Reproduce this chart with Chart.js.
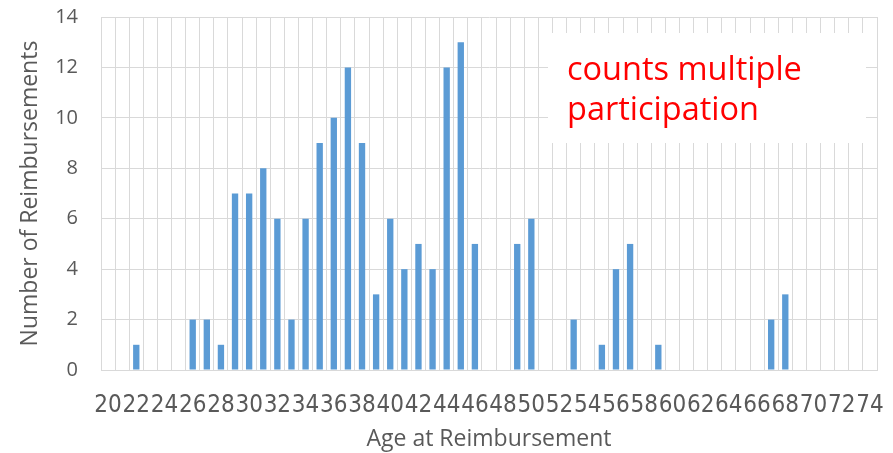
<!DOCTYPE html>
<html>
<head>
<meta charset="utf-8">
<script src="https://cdn.jsdelivr.net/npm/chart.js@4"></script>
<style>
    html, body {
        margin: 0;
        padding: 0;
        background: #ffffff;
    }
    #wrap {
        width: 893px;
        height: 453px;
    }
</style>
</head>
<body>
<div id="wrap"><canvas id="ageChart" width="893" height="453"></canvas></div>
<script>
const EDADES = [
    "20", "21", "22", "23", "24", "25", "26", "27", "28", "29",
    "30", "31", "32", "33", "34", "35", "36", "37", "38", "39",
    "40", "41", "42", "43", "44", "45", "46", "47", "48", "49",
    "50", "51", "52", "53", "54", "55", "56", "57", "58", "59",
    "60", "61", "62", "63", "64", "65", "66", "67", "68", "69",
    "70", "71", "72", "73", "74"
];

const REEMBOLSOS = [
    0, 0, 1, 0, 0, 0, 2, 2, 1, 7,
    7, 8, 6, 2, 6, 9, 10, 12, 9, 3,
    6, 4, 5, 4, 12, 13, 5, 0, 0, 5,
    6, 0, 0, 2, 0, 1, 4, 5, 0, 1,
    0, 0, 0, 0, 0, 0, 0, 2, 3, 0,
    0, 0, 0, 0, 0
];

const TICKS_Y = [0, 2, 4, 6, 8, 10, 12, 14];

const NOTA = ["counts multiple", "participation"];

const GRIS = "#595959";
const FUENTE = "'Open Sans', sans-serif";
const FUENTE_X = "'Liberation Sans Narrow', 'DejaVu Sans Condensed', sans-serif";

// cuadro de texto blanco encima de la rejilla
const notaPlugin = {
    id: "nota",
    afterDatasetsDraw(chart) {
        const c = chart.ctx;
        c.save();
        c.fillStyle = "#ffffff";
        c.fillRect(548, 33, 318, 110);
        c.fillStyle = "#ff0000";
        c.font = "32.5px 'Open Sans', sans-serif";
        c.textBaseline = "alphabetic";
        c.fillText(NOTA[0], 567, 80);
        c.fillText(NOTA[1], 567, 120);
        c.restore();
    }
};

function sinPadding(scale) {
    scale.paddingTop = 0;
    scale.paddingBottom = 0;
    scale.paddingLeft = 0;
    scale.paddingRight = 0;
}

new Chart(document.getElementById("ageChart"), {
    type: "bar",
    data: {
        labels: EDADES,
        datasets: [
            {
                label: "Number of Reimbursements",
                data: REEMBOLSOS,
                backgroundColor: "#5b9bd5",
                barPercentage: 0.45,
                categoryPercentage: 1
            }
        ]
    },
    options: {
        responsive: false,
        animation: false,
        layout: {
            padding: { left: 0, right: 16, top: 17, bottom: 0 }
        },
        plugins: {
            legend: { display: false },
            tooltip: { enabled: false }
        },
        scales: {
            x: {
                grid: {
                    offset: true,
                    color: "#d9d9d9",
                    drawTicks: false
                },
                border: { color: "#d9d9d9" },
                ticks: {
                    autoSkip: false,
                    maxRotation: 0,
                    minRotation: 0,
                    padding: 21,
                    color: GRIS,
                    font: { family: FUENTE_X, size: 24 },
                    callback(value, index) {
                        return index % 2 === 0 ? EDADES[index] : "";
                    }
                },
                title: {
                    display: true,
                    text: "Age at Reimbursement",
                    color: GRIS,
                    font: { family: FUENTE, size: 23 },
                    padding: { top: 0, bottom: 0 }
                },
                afterFit(scale) {
                    scale.height = 83;
                    sinPadding(scale);
                }
            },
            y: {
                min: 0,
                max: 14,
                afterBuildTicks(scale) {
                    scale.ticks = TICKS_Y.map(v => ({ value: v }));
                },
                grid: {
                    color: "#d9d9d9",
                    drawTicks: false
                },
                border: { color: "#d9d9d9" },
                ticks: {
                    padding: 23,
                    color: GRIS,
                    font: { family: FUENTE, size: 20 }
                },
                title: {
                    display: true,
                    text: "Number of Reimbursements",
                    color: GRIS,
                    font: { family: FUENTE, size: 23 },
                    padding: { top: 17, bottom: 0 }
                },
                afterFit(scale) {
                    scale.width = 101;
                    sinPadding(scale);
                }
            }
        }
    },
    plugins: [notaPlugin]
});
</script>
</body>
</html>
